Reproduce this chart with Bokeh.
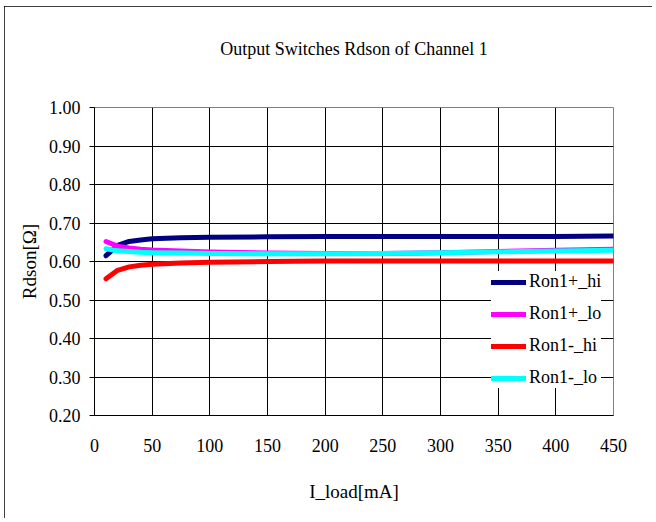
from bokeh.plotting import figure
from bokeh.models import Legend, LegendItem, Range1d, FixedTicker, NumeralTickFormatter
from bokeh.embed import file_html
from bokeh.resources import INLINE

i_load = [10, 20, 30, 40, 50, 75, 100, 150, 200, 250, 300, 350, 400, 450]
ron1p_hi = [0.615, 0.642, 0.652, 0.656, 0.659, 0.662, 0.663, 0.664, 0.665, 0.665, 0.665, 0.665, 0.665, 0.666]
ron1p_lo = [0.652, 0.640, 0.635, 0.632, 0.630, 0.627, 0.625, 0.622, 0.621, 0.621, 0.623, 0.626, 0.629, 0.632]
ron1m_hi = [0.555, 0.577, 0.586, 0.590, 0.593, 0.596, 0.598, 0.600, 0.601, 0.601, 0.601, 0.601, 0.601, 0.601]
ron1m_lo = [0.633, 0.628, 0.626, 0.624, 0.623, 0.622, 0.621, 0.620, 0.620, 0.621, 0.623, 0.625, 0.627, 0.629]
series_names = ["Ron1+_hi", "Ron1+_lo", "Ron1-_hi", "Ron1-_lo"]
colors = ["#000080", "#FF00FF", "#FF0000", "#00FFFF"]
x_ticks = [0, 50, 100, 150, 200, 250, 300, 350, 400, 450]
y_ticks = [0.2, 0.3, 0.4, 0.5, 0.6, 0.7, 0.8, 0.9, 1.0]
title_text = "Output Switches Rdson of Channel 1"

FONT = "Times New Roman"

p = figure(width=648, height=512, output_backend="svg", toolbar_location=None,
           x_range=Range1d(0, 450), y_range=Range1d(0.2, 1.0),
           min_border_left=90, min_border_right=39, min_border_top=101, min_border_bottom=103)
p.styles = {"outline": "1px solid black", "outline-offset": "-1px",
            "margin-left": "4px", "margin-top": "6px"}

# trailing blank lines lift the title well above the plot frame
p.title.text = title_text + "\n\n"
p.title.align = "center"
p.title.vertical_align = "top"
p.title.offset = -18
p.title.standoff = 14
p.title.text_font = FONT
p.title.text_font_size = "18px"
p.title.text_font_style = "normal"
p.title.text_color = "black"

p.outline_line_color = "#808080"
p.outline_line_width = 1

p.xaxis.ticker = FixedTicker(ticks=x_ticks)
p.yaxis.ticker = FixedTicker(ticks=y_ticks)
p.yaxis.formatter = NumeralTickFormatter(format="0.00")
p.xgrid.ticker = FixedTicker(ticks=x_ticks)
p.ygrid.ticker = FixedTicker(ticks=y_ticks)
for g in (p.xgrid, p.ygrid):
    g.grid_line_color = "black"
    g.grid_line_alpha = 1.0
    g.grid_line_width = 1

for ax in (p.xaxis, p.yaxis):
    ax.axis_line_color = "black"
    ax.axis_line_width = 1
    ax.minor_tick_line_color = None
    ax.major_label_text_font = FONT
    ax.major_label_text_font_size = "18px"
    ax.major_label_text_color = "black"
    ax.axis_label_text_font = FONT
    ax.axis_label_text_font_size = "19px"
    ax.axis_label_text_font_style = "normal"
    ax.axis_label_text_color = "black"

p.xaxis.major_tick_out = 0
p.xaxis.major_tick_in = 0
p.xaxis.major_label_standoff = 23
p.xaxis.axis_label = "I_load[mA]"
p.xaxis.axis_label_standoff = 26

p.yaxis.major_tick_out = 5
p.yaxis.major_tick_in = 0
p.yaxis.major_label_standoff = 9
p.yaxis.axis_label = "Rdson[Ω]"
p.yaxis.axis_label_standoff = 6

data = [ron1p_hi, ron1p_lo, ron1m_hi, ron1m_lo]
items = []
for name, ys, c in zip(series_names, data, colors):
    r = p.line(i_load, ys, line_color=c, line_width=5, line_cap="round", line_join="round")
    items.append(LegendItem(label=name, renderers=[r]))

legend = Legend(items=items, location=(397, 27))
legend.label_text_font = FONT
legend.label_text_font_size = "18px"
legend.label_text_color = "black"
legend.glyph_width = 35
legend.glyph_height = 20
legend.label_height = 20
legend.spacing = 11
legend.padding = 5
legend.margin = 0
legend.label_standoff = 3
legend.border_line_color = None
legend.background_fill_color = "white"
legend.background_fill_alpha = 1.0
p.add_layout(legend, "center")

open("out.html", "w").write(file_html(p, INLINE))
